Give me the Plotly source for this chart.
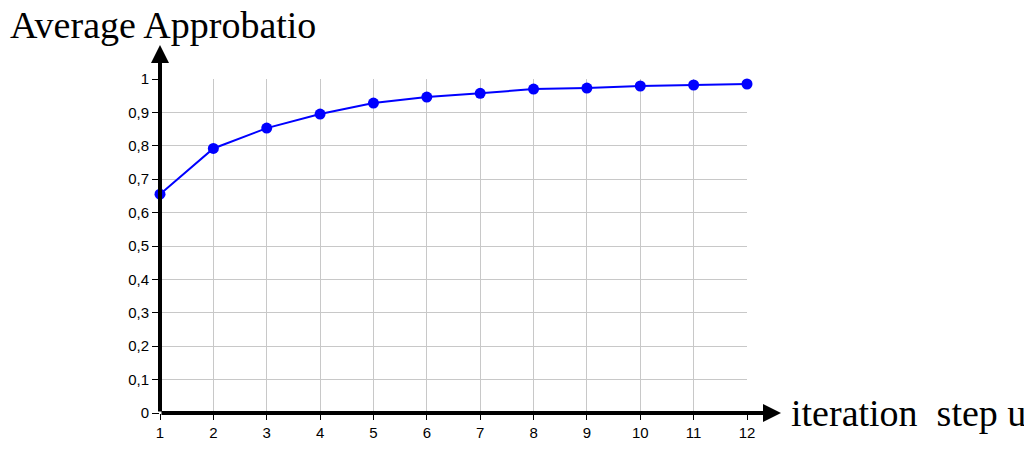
import plotly.graph_objects as go

steps = list(range(1, 13))
approbation = [0.655, 0.792, 0.853, 0.895, 0.928, 0.946, 0.957, 0.970, 0.973, 0.979, 0.982, 0.985]
y_ticks = [round(0.1 * i, 1) for i in range(11)]
y_labels = ["0" if v == 0 else ("1" if v == 1 else f"{v:.1f}".replace(".", ",")) for v in y_ticks]

BLUE = "#0000FF"
GRID = "#C8C8C8"
TICK_FONT = dict(family="Liberation Sans, Arial, sans-serif", size=15, color="#000000")
TITLE_FONT = dict(family="Liberation Serif, Times New Roman, serif", size=38, color="#000000")

# plot area in pixels: x 160..747, y 79..413
PW, PH = 587, 334

fig = go.Figure()
fig.add_trace(
    go.Scatter(
        x=steps,
        y=approbation,
        mode="lines+markers",
        line=dict(color=BLUE, width=2),
        marker=dict(color=BLUE, size=11),
        cliponaxis=False,
        showlegend=False,
        hoverinfo="x+y",
    )
)

fig.update_layout(
    width=1024,
    height=450,
    margin=dict(l=160, r=277, t=79, b=37, autoexpand=False),
    paper_bgcolor="white",
    plot_bgcolor="white",
    xaxis=dict(
        range=[1, 12],
        tickmode="array",
        tickvals=steps,
        showgrid=True,
        gridcolor=GRID,
        gridwidth=1,
        zeroline=False,
        showline=False,
        ticks="outside",
        ticklen=6,
        tickwidth=1,
        tickcolor="#000000",
        tickfont=TICK_FONT,
    ),
    yaxis=dict(
        range=[0, 1],
        tickmode="array",
        tickvals=y_ticks,
        ticktext=y_labels,
        showgrid=True,
        gridcolor=GRID,
        gridwidth=1,
        zeroline=False,
        showline=False,
        ticks="outside",
        ticklen=7,
        tickwidth=1,
        tickcolor="#000000",
        tickfont=TICK_FONT,
    ),
)

# axis arrows
fig.add_annotation(
    x=0, y=1 + 34 / PH, xref="x domain", yref="y domain",
    ax=0, ay=PH + 34, axref="pixel", ayref="pixel",
    showarrow=True, arrowhead=2, arrowsize=0.9, arrowwidth=4, arrowcolor="#000000", text="",
)
fig.add_annotation(
    x=1 + 34 / PW, y=0, xref="x domain", yref="y domain",
    ax=-(PW + 34), ay=0, axref="pixel", ayref="pixel",
    showarrow=True, arrowhead=2, arrowsize=0.9, arrowwidth=4, arrowcolor="#000000", text="",
)

# axis titles (the x title runs off the right edge, as in the source image)
fig.add_annotation(
    x=(8 - 160) / PW, y=1 + 54 / PH, xref="x domain", yref="y domain", text="Average Approbatio",
    showarrow=False, xanchor="left", yanchor="middle", font=TITLE_FONT,
)
fig.add_annotation(
    x=1 + 42 / PW, y=0, xref="x domain", yref="y domain", text="iteration  step u",
    showarrow=False, xanchor="left", yanchor="middle", font=TITLE_FONT,
)

# page has a default 8px body margin; drop it so the chart sits at the window origin
fig.write_html(
    "out.html",
    config={"displayModeBar": False},
    post_script="document.body.style.margin='0';",
)
